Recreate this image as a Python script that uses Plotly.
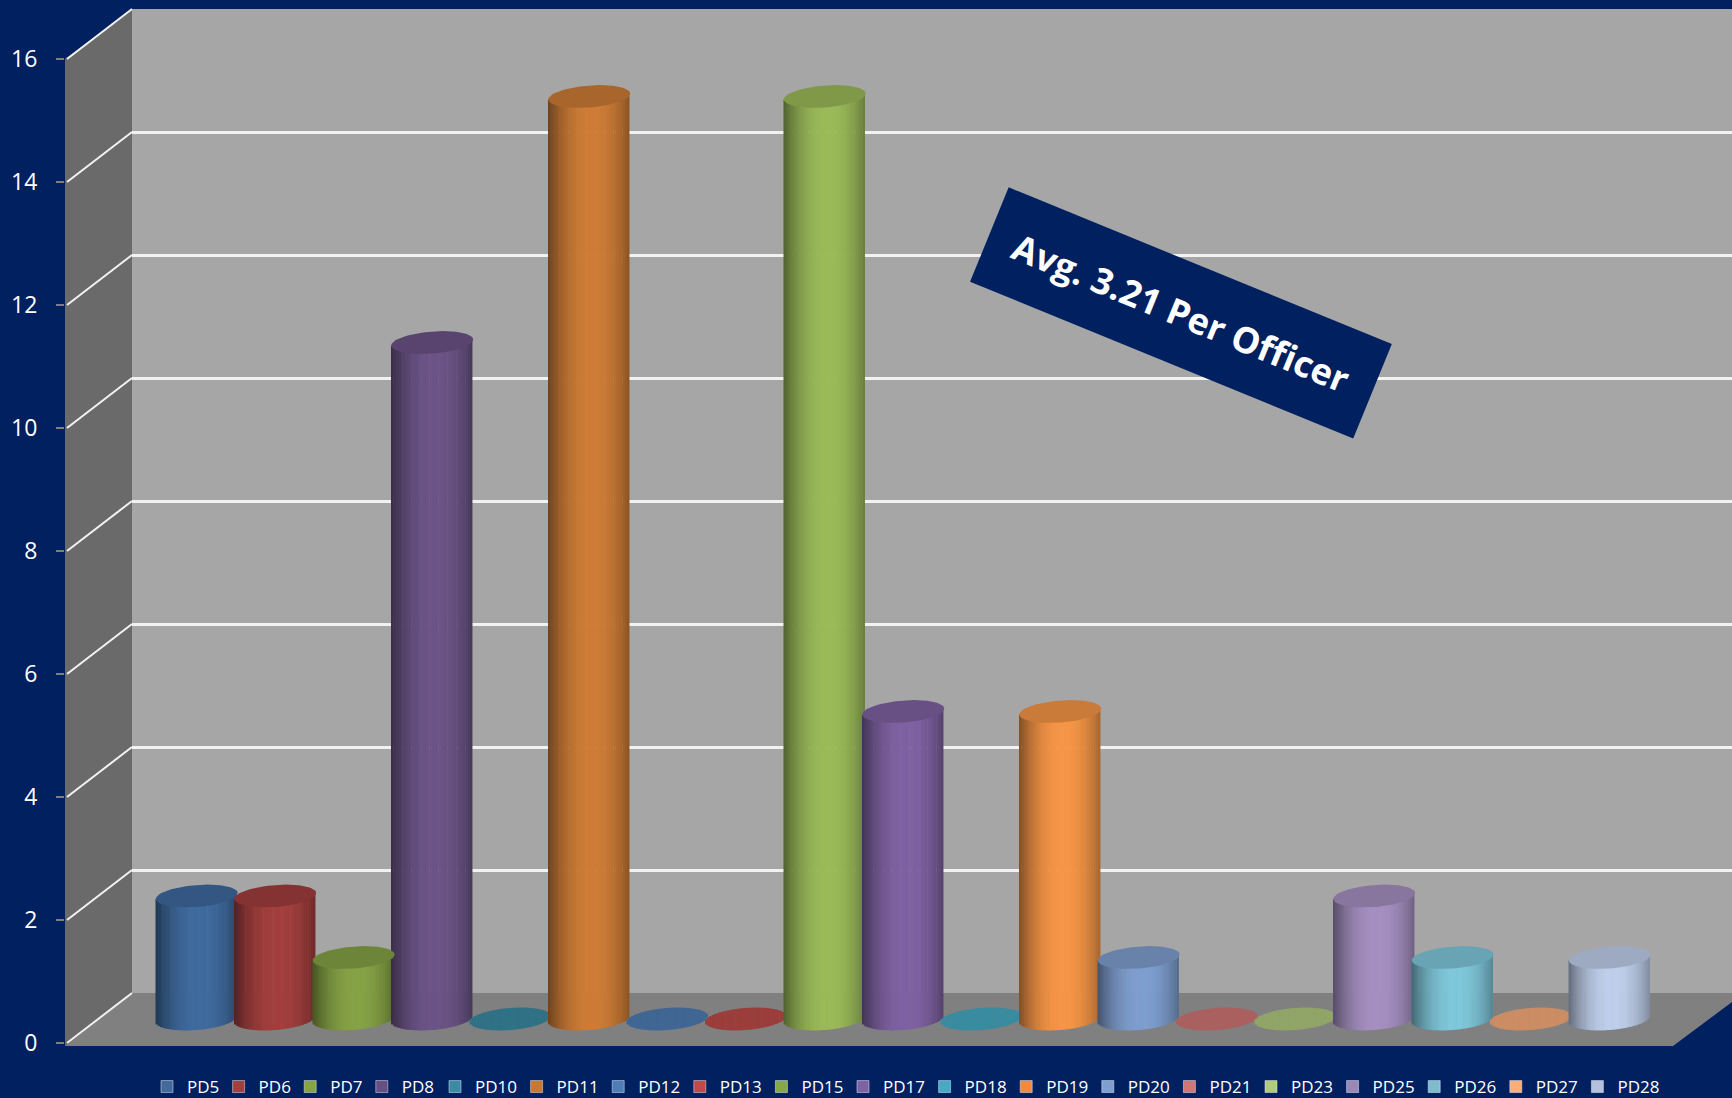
import numpy as np
import plotly.graph_objects as go

categories = ["PD5","PD6","PD7","PD8","PD10","PD11","PD12","PD13","PD15","PD17",
              "PD18","PD19","PD20","PD21","PD23","PD25","PD26","PD27","PD28"]
values = [2,2,1,11,0,15,0,0,15,5,0,5,1,0,0,2,1,0,1]
tick_values = [0,2,4,6,8,10,12,14,16]
colors = ["#3f6b9f","#a33f3d","#86a345","#6c5488","#3a8ba3","#cf7d36","#4f7db5","#be4b48",
          "#9bbb59","#7f62a3","#46aac4","#f79646","#7f9fd0","#d07674","#b0ca7e",
          "#a690c2","#80c8dc","#fbad7a","#c0d0ec"]
legend_colors = ["#436a9a","#a33f3d","#86a345","#664f84","#3a8ba3","#c87830","#4f7db5","#be4b48",
          "#86a84a","#7f62a3","#46aac4","#f08a3c","#7f9fd0","#d07674","#b0ca7e",
          "#9c88b4","#7ebccd","#fbad7a","#b4c0dc"]

W, H = 1732, 1098
BOTTOM_MARGIN = 50
PLOT_H = H - BOTTOM_MARGIN
NAVY = "#002060"
FONT = "Open Sans"

def px(x): return x / W
def py(y): return 1 - y / PLOT_H

# geometry in page pixels
FRONT_X, BACK_X = 65, 132
FRONT_Y0, BACK_Y0 = 1043, 993
UNIT = 61.5
FLOOR_BOTTOM = 1046
CENTER0, STEP = 196, 78.5

def shade(hex_color, f):
    r, g, b = [int(hex_color[i:i+2], 16) for i in (1, 3, 5)]
    return "#%02x%02x%02x" % (min(255, int(r*f)), min(255, int(g*f)), min(255, int(b*f)))

x_idx = np.arange(len(categories))
vals = np.array(values, dtype=float)
half_w = 0.516           # cylinder half width, category units
base_c = 24 / UNIT       # centre of base ellipse, value units
ell_b = 11 / UNIT
tilt = 3 / UNIT

fig = go.Figure()

# back-wall grid lives on the first subplot
fig.add_trace(go.Scatter(x=[0, 1], y=[0, 16], mode="markers", marker_opacity=0,
                         showlegend=False, hoverinfo="skip", xaxis="x", yaxis="y"))

# cylinder bodies and floor discs, drawn as narrow bar strips (right to left)
N = 36
for k in range(N - 1, -1, -1):
    u0 = -1 + 2 * k / N
    u = u0 + 1 / N
    h = np.sqrt(max(0, 1 - u * u))
    f = 0.60 + 0.40 * (1 - abs(u - 0.08) ** 2.2)
    bottoms = base_c + tilt * u - ell_b * h + 0 * vals
    tops = np.where(vals > 0, base_c + vals + tilt * u, base_c + tilt * u + ell_b * h)
    cols = [shade(c, f) if v > 0 else shade(c, 0.82) for c, v in zip(colors, values)]
    fig.add_trace(go.Bar(
        x=x_idx, y=tops - bottoms, base=bottoms,
        width=half_w * 2 / N * 1.2, offset=u0 * half_w,
        marker=dict(color=cols, line_width=0),
        showlegend=False, hoverinfo="skip", xaxis="x2", yaxis="y2"))

# top ellipses
t = np.linspace(0, 2 * np.pi, 73)
for i, (name, v, c) in enumerate(zip(categories, values, colors)):
    if v > 0:
        fig.add_trace(go.Scatter(
            x=i + 0.01 + half_w * np.cos(t) * 1.01,
            y=base_c + v + tilt * np.cos(t) + ell_b * np.sin(t),
            mode="lines", line=dict(width=0), fill="toself",
            fillcolor=shade(c, 0.82), showlegend=False, hoverinfo="skip",
            xaxis="x2", yaxis="y2"))

# legend entries: single-digit names in one legend, two-digit names in another
for name, c in zip(categories, legend_colors):
    fig.add_trace(go.Bar(x=[None], y=[None], name=name, marker_color=c,
                         legend="legend" if len(name) == 3 else "legend2",
                         xaxis="x2", yaxis="y2"))

def poly(points, fill):
    d = "M " + " L ".join(f"{px(a):.5f},{py(b):.5f}" for a, b in points) + " Z"
    return dict(type="path", path=d, xref="paper", yref="paper", layer="below",
                fillcolor=fill, line_width=0)

back_top = BACK_Y0 - 16 * UNIT
shapes = [
    poly([(BACK_X, back_top), (W, back_top), (W, BACK_Y0), (BACK_X, BACK_Y0)], "#a6a6a6"),
    poly([(FRONT_X, FRONT_Y0 - 16 * UNIT), (BACK_X, back_top), (BACK_X, BACK_Y0), (FRONT_X, FRONT_Y0 + 3)], "#6a6a6a"),
    poly([(FRONT_X, FLOOR_BOTTOM), (BACK_X, BACK_Y0), (W, BACK_Y0), (W, 1002), (1673, FLOOR_BOTTOM)], "#808080"),
]
for tv in tick_values:
    shapes.append(dict(type="line", xref="paper", yref="paper", layer="below",
                       x0=px(FRONT_X + 2), y0=py(FRONT_Y0 - tv * UNIT),
                       x1=px(BACK_X), y1=py(BACK_Y0 - tv * UNIT),
                       line=dict(color="#f2f2f2", width=2)))

legend_common = dict(orientation="h", xref="container", yref="container",
                     yanchor="middle", y=(H - 1087) / H,
                     xanchor="left", bgcolor="rgba(0,0,0,0)", borderwidth=0,
                     entrywidthmode="pixels",
                     font=dict(size=17, color="white", family=FONT))

fig.update_layout(
    width=W, height=H,
    margin=dict(l=0, r=0, t=0, b=BOTTOM_MARGIN),
    paper_bgcolor=NAVY, plot_bgcolor="rgba(0,0,0,0)",
    barmode="overlay", shapes=shapes,
    font=dict(family=FONT, color="white"),
    xaxis=dict(domain=[px(BACK_X), 1], range=[0, 1], visible=False),
    yaxis=dict(domain=[py(BACK_Y0), py(back_top)], range=[0, 16], tickvals=tick_values,
               showgrid=True, gridcolor="#f2f2f2", gridwidth=2.5, zeroline=False,
               showticklabels=False, ticks="", showline=False),
    xaxis2=dict(domain=[px(FRONT_X), 1],
                range=[(FRONT_X - CENTER0) / STEP, (W - CENTER0) / STEP],
                visible=False, anchor="y2"),
    yaxis2=dict(domain=[py(FRONT_Y0), 1], range=[0, FRONT_Y0 / UNIT], anchor="x2",
                tickvals=tick_values, ticktext=[str(v) for v in tick_values],
                showgrid=False, zeroline=False, showline=False,
                ticks="outside", ticklen=8, tickwidth=2, tickcolor="#7f7f7f",
                ticklabelstandoff=14, tickfont=dict(size=23, color="white", family=FONT)),
    legend=dict(x=px(147), entrywidth=26.6, **legend_common),
    legend2=dict(x=px(435), entrywidth=36.6, **legend_common),
    annotations=[dict(
        text="<b>Avg. 3.21 Per Officer</b>", xref="paper", yref="paper",
        x=px(1181.2), y=py(312.8), xanchor="center", yanchor="middle",
        showarrow=False, textangle=22.25, width=414, height=102,
        bgcolor=NAVY, borderpad=0, borderwidth=0,
        font=dict(size=36, color="white", family=FONT))],
)

fig.write_html("out.html", config={"displayModeBar": False},
               post_script="document.body.style.margin='0';")
